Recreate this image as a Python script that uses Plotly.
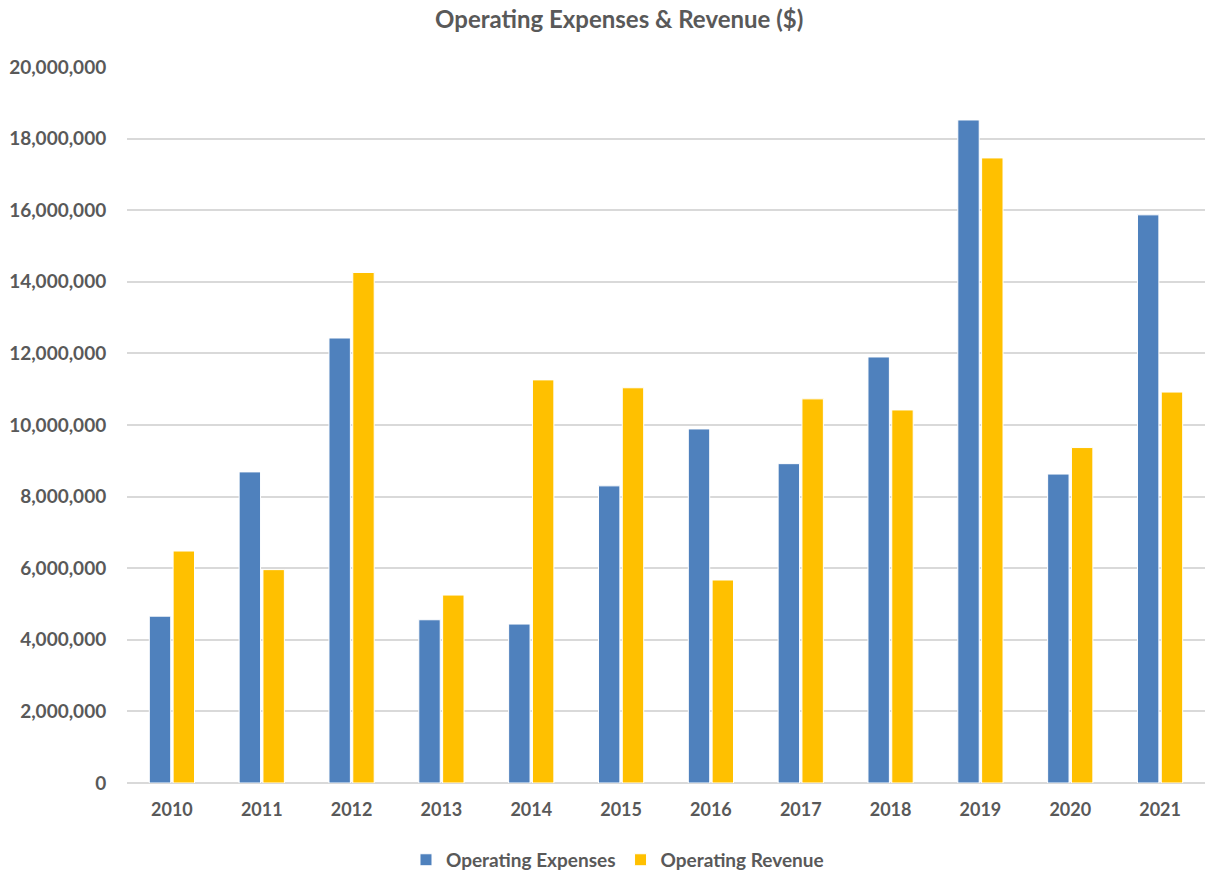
import plotly.graph_objects as go

years = ["2010", "2011", "2012", "2013", "2014", "2015", "2016", "2017", "2018", "2019", "2020", "2021"]
expenses = [4660000, 8690000, 12430000, 4560000, 4440000, 8300000, 9890000, 8920000, 11900000, 18520000, 8630000, 15870000]
revenue = [6480000, 5960000, 14260000, 5250000, 11260000, 11040000, 5670000, 10730000, 10420000, 17460000, 9370000, 10920000]

font_family = "Lato, 'Open Sans', sans-serif"
txt = "#595959"

fig = go.Figure()
fig.add_trace(go.Bar(x=years, y=expenses, name="Operating Expenses",
                     marker=dict(color="#4F81BD", line=dict(color="white", width=1))))
fig.add_trace(go.Bar(x=years, y=revenue, name="Operating Revenue",
                     marker=dict(color="#FFC000", line=dict(color="white", width=1))))

fig.update_layout(
    width=1207, height=873,
    paper_bgcolor="white", plot_bgcolor="white",
    margin=dict(l=127, r=2, t=67, b=90),
    barmode="group", bargap=0.47, bargroupgap=0.1,
    title=dict(text="<b>Operating Expenses &amp; Revenue ($)</b>", x=0.513, xanchor="center",
               y=0.977, yanchor="middle", font=dict(family=font_family, size=24, color=txt)),
    font=dict(family=font_family, color=txt),
    legend=dict(orientation="h", x=0.455, xanchor="center", yref="container", y=0.015,
                yanchor="middle",
                font=dict(family=font_family, size=19, color=txt, weight="bold"),
                traceorder="normal", itemwidth=30, tracegroupgap=0),
    xaxis=dict(showgrid=False, showline=False, ticks="outside", ticklen=10,
               tickcolor="rgba(0,0,0,0)", automargin=False,
               tickfont=dict(family=font_family, size=18, color=txt, weight="bold")),
    yaxis=dict(range=[0, 20000000], dtick=2000000, tickformat=",d", automargin=False,
               showgrid=True, gridcolor="#D9D9D9", gridwidth=1.5, zeroline=True,
               zerolinecolor="#D9D9D9", zerolinewidth=1.5, showline=False, ticks="outside",
               ticklen=16, tickcolor="rgba(0,0,0,0)",
               tickfont=dict(family=font_family, size=19, color=txt, weight="bold")),
)
fig.write_html("out.html")
